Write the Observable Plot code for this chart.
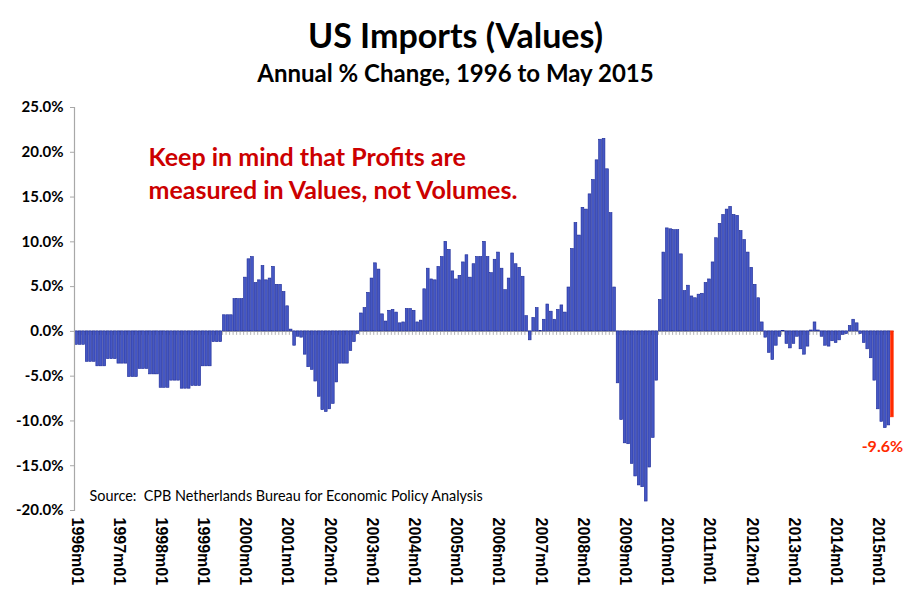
<!DOCTYPE html>
<html><head><meta charset="utf-8">
<script src="https://cdn.jsdelivr.net/npm/d3@7"></script>
<script src="https://cdn.jsdelivr.net/npm/@observablehq/plot@0.6"></script>
<style>
body{margin:0;background:#fff;}
#chart{width:910px;height:603px;}
</style></head><body><div id="chart"></div>
<script>
// Annual % change of US import values, monthly, 1996m01 .. 2015m05
const v1996 = [-1.5,-1.5,-1.5,-3.4,-3.4,-3.4,-3.9,-3.9,-3.9,-3.1,-3.1,-3.1];
const v1997 = [-3.6,-3.6,-3.6,-5.1,-5.1,-5.1,-4.2,-4.2,-4.2,-4.8,-4.8,-4.8];
const v1998 = [-6.3,-6.3,-6.3,-5.5,-5.5,-5.5,-6.4,-6.4,-6.4,-6.1,-6.1,-6.1];
const v1999 = [-3.9,-3.9,-3.9,-1.2,-1.2,-1.2,1.8,1.8,1.8,3.6,3.6,3.6];
const v2000 = [6.0,8.05,8.3,5.4,5.7,7.3,5.7,5.9,7.2,5.2,5.2,4.4];
const v2001 = [2.8,0.2,-1.6,-0.6,-0.7,-2.6,-4.0,-4.3,-5.6,-7.3,-8.8,-9.0];
const v2002 = [-8.7,-8.1,-5.7,-3.6,-3.6,-3.6,-2.2,-1.2,-0.3,2.0,2.6,4.3];
const v2003 = [5.9,7.6,6.9,1.9,1.1,2.3,2.4,2.1,0.9,1.0,2.5,2.5];
const v2004 = [2.3,1.0,1.2,4.7,7.0,5.8,5.7,7.2,8.3,10.0,9.1,6.7];
const v2005 = [5.8,6.2,7.7,8.5,6.0,7.5,8.3,8.3,10.0,8.3,6.5,8.0];
const v2006 = [8.8,7.0,4.6,5.9,8.7,7.5,7.1,6.1,1.7,-1.0,1.5,2.6];
const v2007 = [0.05,1.3,3.0,2.2,1.3,2.4,2.9,2.1,4.9,9.2,12.1,10.7];
const v2008 = [13.8,13.6,15.3,16.9,19.1,21.4,21.5,18.1,13.2,4.9,-5.8,-9.9];
const v2009 = [-12.5,-12.6,-14.8,-16.2,-17.2,-17.4,-19.0,-15.2,-11.9,-5.5,3.5,8.8];
const v2010 = [11.5,11.4,11.3,11.3,8.6,4.5,5.1,3.9,3.7,4.1,4.2,5.4];
const v2011 = [5.8,7.7,10.4,12.0,13.0,13.6,13.9,13.0,12.9,11.2,10.2,8.8];
const v2012 = [7.1,5.2,3.7,1.0,-0.7,-2.4,-3.2,-1.6,-0.6,0.05,-1.4,-1.9];
const v2013 = [-1.4,-0.6,-2.0,-2.6,-1.7,0.1,1.0,0.1,-0.6,-1.6,-1.7,-1.1];
const v2014 = [-1.3,-1.0,-0.4,-0.3,0.6,1.3,0.9,-0.3,-1.3,-2.0,-3.0,-5.5];
const v2015 = [-8.7,-10.1,-10.8,-10.5,-9.6];

const years = [1996,1997,1998,1999,2000,2001,2002,2003,2004,2005,2006,2007,2008,2009,2010,2011,2012,2013,2014,2015];
const yearValues = [v1996,v1997,v1998,v1999,v2000,v2001,v2002,v2003,v2004,v2005,v2006,v2007,v2008,v2009,v2010,v2011,v2012,v2013,v2014,v2015];
const yTicks = [-20,-15,-10,-5,0,5,10,15,20,25];

const titleText = "US Imports (Values)";
const subtitleText = "Annual % Change, 1996 to May 2015";
const noteText = "Keep in mind that Profits are\nmeasured in Values, not Volumes.";
const sourceText = "Source:  CPB Netherlands Bureau for Economic Policy Analysis";
const lastLabel = "-9.6%";

const data = [];
years.forEach((y, yi) => {
  yearValues[yi].forEach((v, mi) => {
    data.push({month: `${y}m${String(mi + 1).padStart(2, "0")}`, value: v});
  });
});
const months = data.map(d => d.month);
const last = data[data.length - 1];
const history = data.slice(0, -1);
const januaries = months.filter(m => m.endsWith("m01"));

const font = "Lato, 'Open Sans', sans-serif";

const chart = Plot.plot({
  width: 910, height: 603,
  marginLeft: 74, marginRight: 16, marginTop: 107, marginBottom: 93,
  x: {type: "band", domain: months, padding: 0.22, axis: null, label: null},
  y: {domain: [-20, 25], axis: null, label: null},
  style: {fontFamily: font, background: "#fff", color: "#000"},
  marks: [
    Plot.ruleX(months, {x: d => d, y1: 0, y2: -0.45, stroke: "#b4b4b4", strokeWidth: 1, dx: -1.76}),
    Plot.ruleY([0], {stroke: "#a8a8a8", strokeWidth: 1.2}),
    Plot.barY(history, {x: "month", y: "value", fill: "#4557c4", stroke: "#1a2896", strokeWidth: 0.6}),
    Plot.barY([last], {x: "month", y: "value", fill: "#ff2a00", stroke: "#ff2a00", strokeWidth: 0.6}),
    Plot.frame({anchor: "left", stroke: "#a8a8a8", strokeWidth: 1.2}),
    Plot.axisY({ticks: yTicks, tickSize: 4, tickPadding: 7, stroke: "#a8a8a8", label: null,
      tickFormat: d => d.toFixed(1) + "%", fontWeight: "bold", fontSize: 15, fill: "#000"}),
    Plot.axisX({ticks: januaries, tickSize: 0, tickPadding: 7, tickRotate: 90, label: null,
      tickFormat: d => d, fontWeight: "bold", fontSize: 16, fill: "#000", fontFamily: "'Liberation Sans', Arial, sans-serif"}),
    Plot.text([titleText], {text: d => d, frameAnchor: "top", dx: -29, dy: -70, lineAnchor: "middle",
      fontSize: 34, fontWeight: "bold", fill: "#000"}),
    Plot.text([subtitleText], {text: d => d, frameAnchor: "top", dx: -29, dy: -32.7, lineAnchor: "middle",
      fontSize: 24, fontWeight: "bold", fill: "#000"}),
    Plot.text([noteText], {text: d => d, frameAnchor: "top-left", dx: 74, dy: 35, lineAnchor: "top",
      textAnchor: "start", fontSize: 25, lineHeight: 1.32, fontWeight: "bold", fill: "#cc0000"}),
    Plot.text([sourceText], {text: d => d, frameAnchor: "bottom-left", dx: 15, dy: -14.6, lineAnchor: "middle",
      textAnchor: "start", fontSize: 14.4, fill: "#000"}),
    Plot.text([last], {x: "month", y: "value", text: () => lastLabel, dx: -10, dy: 30, lineAnchor: "middle",
      fontSize: 16, fontWeight: "bold", fill: "#ff2a00"})
  ]
});
document.getElementById("chart").appendChild(chart);
</script>
</body></html>
